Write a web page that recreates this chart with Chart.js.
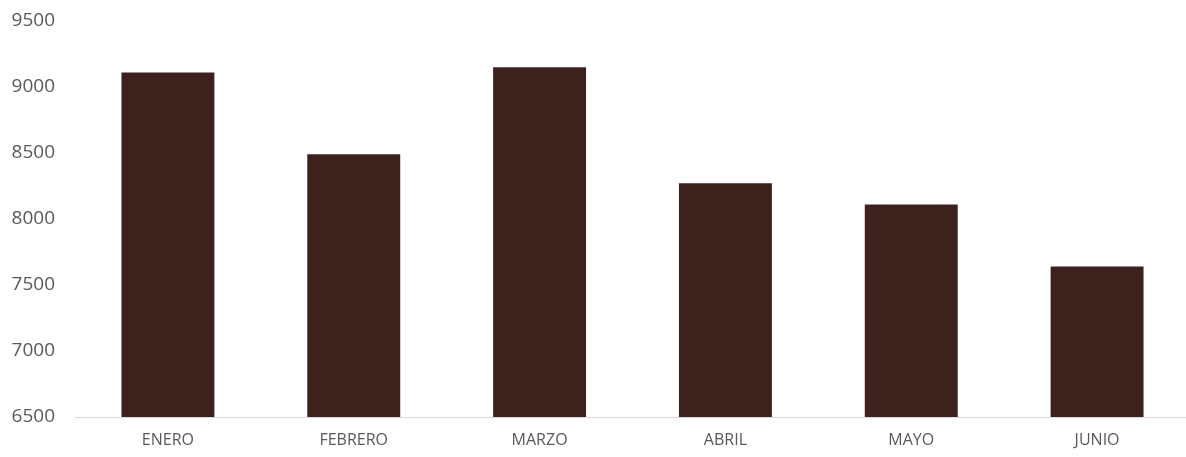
<!DOCTYPE html>
<html>
<head>
<meta charset="utf-8">
<script src="https://cdn.jsdelivr.net/npm/chart.js@4.4.1/dist/chart.umd.min.js"></script>
<style>
  html, body { margin: 0; padding: 0; background: #ffffff; overflow: hidden; }
  #wrap { position: relative; width: 1190px; height: 457px; }
</style>
</head>
<body>
<div id="wrap"><canvas id="c"></canvas></div>
<script>
const categories = ['ENERO', 'FEBRERO', 'MARZO', 'ABRIL', 'MAYO', 'JUNIO'];
const ventas = [9110, 8490, 9150, 8270, 8110, 7640];
const yMin = 6500;
const yMax = 9500;
const yStep = 500;

new Chart(document.getElementById('c'), {
  type: 'bar',
  data: {
    labels: categories,
    datasets: [{
      data: ventas,
      backgroundColor: '#3c211c',
      borderWidth: 0,
      categoryPercentage: 1.0,
      barPercentage: 0.5
    }]
  },
  options: {
    responsive: true,
    maintainAspectRatio: false,
    animation: false,
    layout: { padding: { top: 21, left: 0, right: 0, bottom: 0 } },
    plugins: { legend: { display: false }, tooltip: { enabled: false } },
    scales: {
      x: {
        grid: { display: false, drawTicks: false },
        border: { display: true, color: '#d9d9d9', width: 1 },
        ticks: { color: '#595959', font: { family: 'Open Sans', size: 16 }, padding: 14 },
        afterFit: (s) => { s.height = 40; s.paddingLeft = 0; s.paddingRight = 0; }
      },
      y: {
        min: yMin,
        max: yMax,
        grid: { display: false, drawTicks: false },
        border: { display: false },
        ticks: {
          stepSize: yStep,
          color: '#595959',
          font: { family: 'Open Sans', size: 19 },
          padding: 20,
          callback: (v) => String(v)
        },
        afterFit: (s) => { s.width = 75; s.paddingTop = 0; s.paddingBottom = 0; }
      }
    }
  }
});
</script>
</body>
</html>
